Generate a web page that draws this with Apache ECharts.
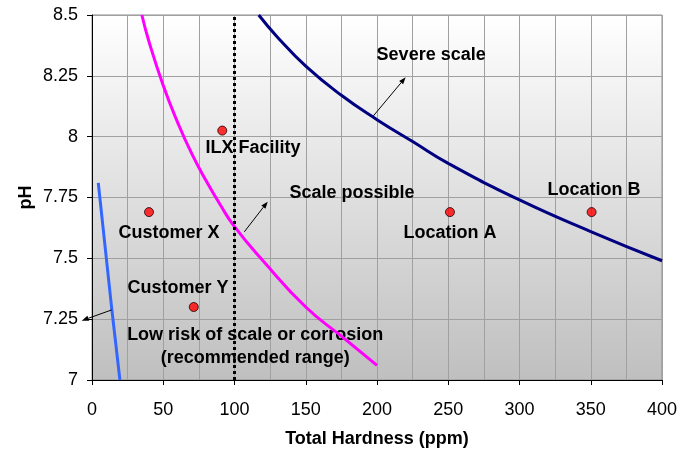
<!DOCTYPE html>
<html>
<head>
<meta charset="utf-8">
<script src="https://cdn.jsdelivr.net/npm/echarts@6/dist/echarts.min.js"></script>
<style>
html,body{margin:0;padding:0;background:#fff;}
#chart{width:694px;height:449px;}
</style>
</head>
<body>
<div id="chart"></div>
<script>
// ---- data ----
const xTicks = [0, 50, 100, 150, 200, 250, 300, 350, 400];
const yTicks = [7, 7.25, 7.5, 7.75, 8, 8.25, 8.5];

const hardnessMagenta = [35, 40, 50, 60, 70, 80, 90, 100, 120, 150, 175, 200];
const phMagenta       = [8.50, 8.39, 8.21, 8.06, 7.93, 7.82, 7.72, 7.63, 7.49, 7.30, 7.18, 7.06];

const hardnessNavy = [117, 130, 150, 175, 200, 225, 250, 300, 350, 400];
const phNavy       = [8.50, 8.41, 8.29, 8.17, 8.07, 7.98, 7.89, 7.74, 7.61, 7.49];

const hardnessBlue = [4.4, 13.9, 19.6];
const phBlue       = [7.81, 7.29, 7.00];

const hardnessLimit = [100, 100];
const phLimit       = [7.0, 8.5];

const siteNames    = ['ILX Facility', 'Customer X', 'Customer Y', 'Location A', 'Location B'];
const siteHardness = [91.4, 40, 71.4, 251.2, 350.6];
const sitePH       = [8.025, 7.69, 7.30, 7.69, 7.69];

const noteText = ['Severe scale', 'ILX Facility', 'Scale possible', 'Customer X', 'Customer Y',
                  'Low risk of scale or corrosion\n(recommended range)', 'Location A', 'Location B'];
const noteHardness = [238, 113, 182.5, 54, 60.4, 114.5, 251.2, 352.3];
const notePH       = [8.336, 7.953, 7.768, 7.604, 7.378, 7.138, 7.604, 7.781];

const arrowFromH  = [197.4, 106.9, 13.8];
const arrowFromPH = [8.085, 7.609, 7.288];
const arrowToH    = [220.1, 123.3, -7.2];
const arrowToPH   = [8.244, 7.733, 7.244];

// ---- build ----
const zip = (a, b) => a.map((v, i) => [v, b[i]]);
const FONT = 'Liberation Sans, Arial, sans-serif';

const chart = echarts.init(document.getElementById('chart'), null, {renderer: 'canvas'});

const option = {
  animation: false,
  grid: {
    left: 92, right: 32, top: 15, bottom: 69,
    outerBoundsMode: 'none',
    containLabel: false,
    show: true,
    backgroundColor: new echarts.graphic.LinearGradient(0, 0, 0, 1, [
      {offset: 0, color: '#ffffff'},
      {offset: 1, color: '#bfbfbf'}
    ]),
    borderColor: '#8c8c8c',
    borderWidth: 1
  },
  xAxis: {
    type: 'value',
    min: xTicks[0], max: xTicks[xTicks.length - 1], interval: 50,
    name: 'Total Hardness (ppm)',
    nameLocation: 'middle',
    nameGap: 50,
    nameMoveOverlap: false,
    nameTextStyle: {fontFamily: FONT, fontWeight: 'bold', fontSize: 18, color: '#000'},
    axisLine: {show: true, lineStyle: {color: '#000', width: 1}},
    axisTick: {show: true, length: 5, lineStyle: {color: '#000'}},
    axisLabel: {fontFamily: FONT, fontSize: 18, color: '#000', margin: 21},
    splitLine: {show: true, lineStyle: {color: '#a0a0a0', width: 1}},
    minorTick: {show: false, splitNumber: 2},
    minorSplitLine: {show: true, lineStyle: {color: '#a0a0a0', width: 1}}
  },
  yAxis: {
    type: 'value',
    min: yTicks[0], max: yTicks[yTicks.length - 1], interval: 0.25,
    name: 'pH',
    nameLocation: 'middle',
    nameGap: 57,
    nameMoveOverlap: false,
    nameTextStyle: {fontFamily: FONT, fontWeight: 'bold', fontSize: 18, color: '#000'},
    axisLine: {show: true, lineStyle: {color: '#000', width: 1}},
    axisTick: {show: true, length: 5, lineStyle: {color: '#000'}},
    axisLabel: {fontFamily: FONT, fontSize: 18, color: '#000', margin: 14},
    splitLine: {show: true, lineStyle: {color: '#a0a0a0', width: 1}}
  },
  series: [
    {
      type: 'custom',
      name: 'notes',
      z: 3,
      data: noteText.map((t, i) => [noteHardness[i], notePH[i], i]),
      encode: {x: 0, y: 1},
      renderItem: function (params, api) {
        const p = api.coord([api.value(0), api.value(1)]);
        const t = noteText[api.value(2)];
        return {
          type: 'text',
          x: p[0], y: p[1],
          style: {
            text: t,
            fill: '#000',
            font: 'bold 18px ' + FONT,
            align: 'center', verticalAlign: 'middle',
            textAlign: 'center', textVerticalAlign: 'middle',
            lineHeight: 23
          }
        };
      }
    },
    {
      type: 'line', name: 'magenta', z: 4,
      data: zip(hardnessMagenta, phMagenta),
      smooth: true, showSymbol: false, symbol: 'none',
      lineStyle: {color: '#ff00ff', width: 3}
    },
    {
      type: 'line', name: 'navy', z: 4,
      data: zip(hardnessNavy, phNavy),
      smooth: true, showSymbol: false, symbol: 'none',
      lineStyle: {color: '#000080', width: 3}
    },
    {
      type: 'line', name: 'blue', z: 4,
      data: zip(hardnessBlue, phBlue),
      smooth: true, showSymbol: false, symbol: 'none',
      lineStyle: {color: '#3366ff', width: 3}
    },
    {
      type: 'line', name: 'limit', z: 5,
      data: zip(hardnessLimit, phLimit),
      showSymbol: false, symbol: 'none',
      lineStyle: {color: '#000', width: 3, type: [3, 3], cap: 'butt'}
    },
    {
      type: 'custom',
      name: 'arrows',
      z: 5,
      clip: false,
      data: arrowFromH.map((v, i) => [v, arrowFromPH[i], arrowToH[i], arrowToPH[i]]),
      encode: {x: [0, 2], y: [1, 3]},
      renderItem: function (params, api) {
        const a = api.coord([api.value(0), api.value(1)]);
        const b = api.coord([api.value(2), api.value(3)]);
        const ang = Math.atan2(b[1] - a[1], b[0] - a[0]);
        const L = 7, W = 2.6;
        const bx = b[0] - L * Math.cos(ang), by = b[1] - L * Math.sin(ang);
        const nx = -Math.sin(ang) * W, ny = Math.cos(ang) * W;
        return {
          type: 'group',
          children: [
            {type: 'line', shape: {x1: a[0], y1: a[1], x2: bx, y2: by},
             style: {stroke: '#000', lineWidth: 1}},
            {type: 'polygon', shape: {points: [[b[0], b[1]], [bx + nx, by + ny], [bx - nx, by - ny]]},
             style: {fill: '#000'}}
          ]
        };
      }
    },
    {
      type: 'scatter', name: 'sites', z: 6,
      data: siteNames.map((n, i) => ({name: n, value: [siteHardness[i], sitePH[i]]})),
      symbol: 'circle', symbolSize: 9,
      itemStyle: {color: '#ff0000', borderColor: '#200000', borderWidth: 1}
    }
  ]
};

chart.setOption(option);
</script>
</body>
</html>
